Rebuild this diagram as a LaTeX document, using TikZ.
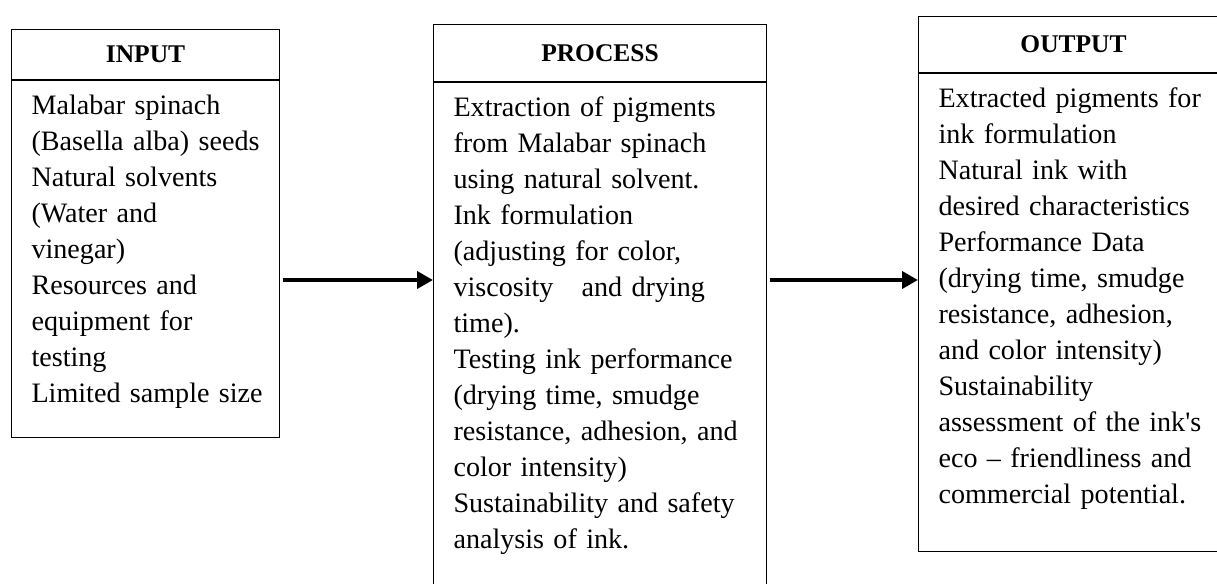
\documentclass[tikz,border=0pt]{standalone}
\usepackage{fontspec}
\setmainfont{Liberation Serif}
\usetikzlibrary{arrows.meta, positioning}

\begin{document}
\begin{tikzpicture}[
    headbox/.style={draw, line width=0.6pt, inner sep=0pt, anchor=north west, font=\bfseries\fontsize{14.5pt}{17pt}\selectfont},
    bodybox/.style={draw, line width=0.6pt, inner xsep=0.4cm, inner ysep=0pt, align=left, text height=0.68cm, font=\fontsize{16pt}{20.5pt}\selectfont},
    flowarrow/.style={line width=2.8pt, shorten <=1.5pt, -{Triangle[length=9pt, width=9.5pt]}}
  ]
  \useasboundingbox (0,0) rectangle (24.34,-11.66);
  \clip (0,0) rectangle (24.34,-11.66);

  % input column
  \node[headbox, minimum width=5.36cm, minimum height=1cm] (inhead) at (0.22,-0.58) {INPUT};
  \node[bodybox, text width=4.56cm, text depth=6.46cm, below=0pt of inhead] (inbody)
    {Malabar spinach\\ \mbox{(Basella alba) seeds}\\ Natural solvents\\ (Water and\\ vinegar)\\
     Resources and\\ equipment for\\ testing\\ \mbox{Limited sample size}};

  % process column
  \node[headbox, minimum width=6.66cm, minimum height=1.14cm] (prochead) at (8.66,-0.48) {PROCESS};
  \node[bodybox, text width=5.86cm, text depth=10.32cm, below=0pt of prochead] (procbody)
    {Extraction of pigments\\ from Malabar spinach\\ using natural solvent.\\ Ink formulation\\
     (adjusting for color,\\ viscosity \ \ and drying\\ time).\\ Testing ink performance\\
     (drying time, smudge\\ \mbox{resistance, adhesion, and}\\ color intensity)\\
     Sustainability and safety\\ analysis of ink.};

  % output column
  \node[headbox, minimum width=6.2cm, minimum height=1.12cm] (outhead) at (18.36,-0.32) {OUTPUT};
  \node[bodybox, text width=5.4cm, text depth=8.88cm, below=0pt of outhead] (outbody)
    {\mbox{Extracted pigments for}\\ ink formulation\\ Natural ink with\\ desired characteristics\\
     Performance Data\\ (drying time, smudge\\ resistance, adhesion,\\ and color intensity)\\
     Sustainability\\ \mbox{assessment of the ink\textquotesingle s}\\ eco -- friendliness and\\
     commercial potential.};

  \coordinate (flowline) at (0,-5.6);
  \draw[flowarrow] (inbody.east |- flowline) -- (procbody.west |- flowline);
  \draw[flowarrow] (procbody.east |- flowline) -- (outbody.west |- flowline);
\end{tikzpicture}
\end{document}
